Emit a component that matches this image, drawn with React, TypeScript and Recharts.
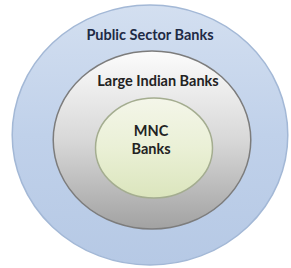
import { PieChart, Pie } from 'recharts';

const ringNames = ['Public Sector Banks', 'Large Indian Banks', 'MNC Banks'];
const ringValues = [1, 1, 1];
const ringLabelLines = [['Public Sector Banks'], ['Large Indian Banks'], ['MNC', 'Banks']];

// layout per ring: center, vertical radius, horizontal stretch, label offset from top
const ringLayout = [
  { cx: 150, cy: 135, r: 130, aspect: 1.06, labelTop: 29, labelDx: 0 },
  { cx: 152, cy: 140, r: 89, aspect: 1.11, labelTop: 29, labelDx: 6 },
  { cx: 154, cy: 148, r: 50, aspect: 1.17, labelTop: 32, labelDx: -3 },
];

const fills = [
  { id: 'gOuter', stops: ['#d3dff0', '#c0d1ea', '#b6c9e5'], stroke: '#a3b8d6' },
  { id: 'gMiddle', stops: ['#fcfcfc', '#d8d8d8', '#a2a2a2'], stroke: '#7c7c7c' },
  { id: 'gInner', stops: ['#f4f6e9', '#eaf0d6', '#dbe5bd'], stroke: '#a4ad90' },
];

function makeShape(i: number) {
  return (props: any) => {
    const f = fills[i];
    return (
      <g>
        <defs>
          <linearGradient id={f.id} x1="0" y1="0" x2="0" y2="1">
            <stop offset="0%" stopColor={f.stops[0]} />
            <stop offset="50%" stopColor={f.stops[1]} />
            <stop offset="100%" stopColor={f.stops[2]} />
          </linearGradient>
        </defs>
        <ellipse
          cx={props.cx}
          cy={props.cy}
          rx={props.outerRadius * ringLayout[i].aspect}
          ry={props.outerRadius}
          fill={`url(#${f.id})`}
          stroke={f.stroke}
          strokeWidth={1.5}
        />
      </g>
    );
  };
}

function makeLabel(i: number) {
  return (props: any) => {
    const top = props.cy - props.outerRadius + ringLayout[i].labelTop;
    return (
      <text
        x={props.cx + ringLayout[i].labelDx}
        y={top}
        textAnchor="middle"
        dominantBaseline="central"
        fill={i === 0 ? '#1e2a45' : '#222'}
        fontFamily="Lato, 'Open Sans', sans-serif"
        fontWeight={700}
        fontSize={14.5}
      >
        {ringLabelLines[i].map((line, k) => (
          <tspan key={line} x={props.cx + ringLayout[i].labelDx} dy={k === 0 ? 0 : 18}>
            {line}
          </tspan>
        ))}
      </text>
    );
  };
}

export default function App() {
  return (
    <div style={{ width: 291, height: 268, background: '#fff' }}>
      <style>{`body { margin: 0; }`}</style>
      <PieChart width={291} height={268} margin={{ top: 0, right: 0, bottom: 0, left: 0 }}>
        {ringNames.map((name, i) => (
          <Pie
            key={name}
            data={[{ name, value: ringValues[i] }]}
            dataKey="value"
            nameKey="name"
            cx={ringLayout[i].cx}
            cy={ringLayout[i].cy}
            innerRadius={0}
            outerRadius={ringLayout[i].r}
            startAngle={90}
            endAngle={-270}
            shape={makeShape(i)}
            inactiveShape={makeShape(i)}
            activeShape={makeShape(i)}
            label={makeLabel(i)}
            labelLine={false}
            isAnimationActive={false}
          />
        ))}
      </PieChart>
    </div>
  );
}
